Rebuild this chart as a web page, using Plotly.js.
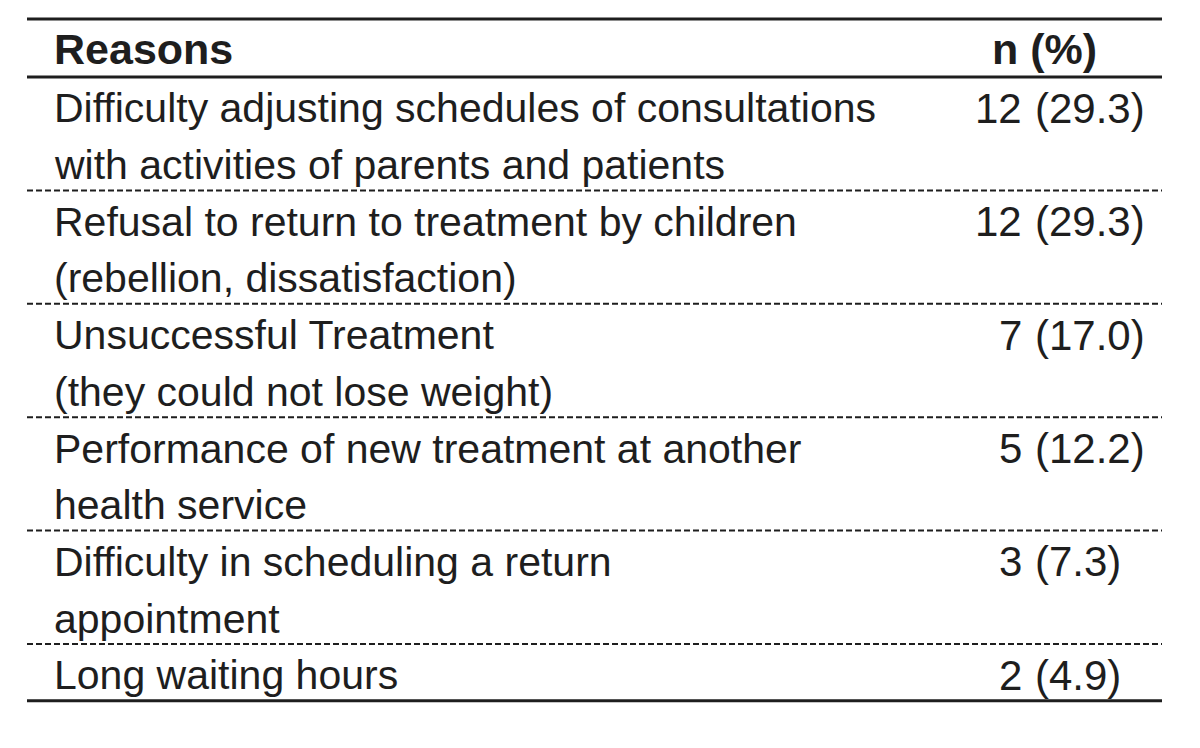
<!DOCTYPE html>
<html>
<head>
<meta charset="utf-8">
<script src="https://cdn.plot.ly/plotly-3.0.1.min.js"></script>
<style>html,body{margin:0;padding:0;background:#fff;}#chart{width:1200px;height:748px;}</style>
</head>
<body>
<div id="chart"></div>
<script>
// ---- table data ----
var headers = ["Reasons", "n (%)"];
var reasons = [
  ["Difficulty adjusting schedules of consultations", "with activities of parents and patients"],
  ["Refusal to return to treatment by children", "(rebellion, dissatisfaction)"],
  ["Unsuccessful Treatment", "(they could not lose weight)"],
  ["Performance of new treatment at another", "health service"],
  ["Difficulty in scheduling a return", "appointment"],
  ["Long waiting hours"]
];
var counts = [12, 12, 7, 5, 3, 2];
var percents = ["29.3", "29.3", "17.0", "12.2", "7.3", "4.9"];

// ---- layout geometry (pixel-like axis units) ----
var W = 1200, H = 748;
var X0 = 27, X1 = 1162;
var textX = 53;
var nRightX = 1023, pctLeftX = 1034;
var headTop = 19, headBottom = 77;
var lineH = 56.7;
var fontSize = 41;
var ink = "#1e1e1e";
var font = {family: "Liberation Sans, Arial, sans-serif", size: fontSize, color: ink};
var numFont = {family: "Liberation Sans, Arial, sans-serif", size: 42, color: ink};
var boldFont = {family: "Liberation Sans, Arial, sans-serif", size: 43, color: ink, weight: 700};

var annotations = [];
var shapes = [];

function hline(y, width, dash) {
  shapes.push({type: "line", xref: "x", yref: "y", x0: X0, x1: X1, y0: y, y1: y,
    line: {color: ink, width: width, dash: dash}});
}

// header
hline(headTop, 3, "solid");
annotations.push({x: textX, y: (headTop + headBottom) / 2 + 1, text: "<b>" + headers[0] + "</b>",
  xanchor: "left", yanchor: "middle", font: boldFont});
annotations.push({x: 991, y: (headTop + headBottom) / 2 + 1, text: "<b>" + headers[1] + "</b>",
  xanchor: "left", yanchor: "middle", font: boldFont});
hline(headBottom, 3, "solid");

var y = headBottom;
reasons.forEach(function(lines, i) {
  lines.forEach(function(t, j) {
    var cy = y + lineH * j + lineH / 2 + 3;
    annotations.push({x: textX, y: cy, text: t, xanchor: "left", yanchor: "middle", font: font});
    if (j === 0) {
      annotations.push({x: nRightX, y: cy, text: String(counts[i]), xanchor: "right", yanchor: "middle", font: numFont});
      annotations.push({x: pctLeftX, y: cy, text: "(" + percents[i] + ")", xanchor: "left", yanchor: "middle", font: numFont});
    }
  });
  y += lineH * lines.length;
  if (i < reasons.length - 1) hline(y, 2, "6px,3px");
  else hline(y, 3, "solid");
});

annotations.forEach(function(a){ a.showarrow = false; a.xref = "x"; a.yref = "y"; a.borderpad = 0; });

var layout = {
  width: W, height: H,
  margin: {l: 0, r: 0, t: 0, b: 0},
  paper_bgcolor: "#ffffff", plot_bgcolor: "#ffffff",
  xaxis: {range: [0, W], visible: false, fixedrange: true},
  yaxis: {range: [H, 0], visible: false, fixedrange: true},
  showlegend: false,
  annotations: annotations,
  shapes: shapes
};

Plotly.newPlot("chart", [{x: [], y: [], type: "scatter", mode: "markers", hoverinfo: "skip"}], layout,
  {staticPlot: true, displayModeBar: false});
</script>
</body>
</html>
